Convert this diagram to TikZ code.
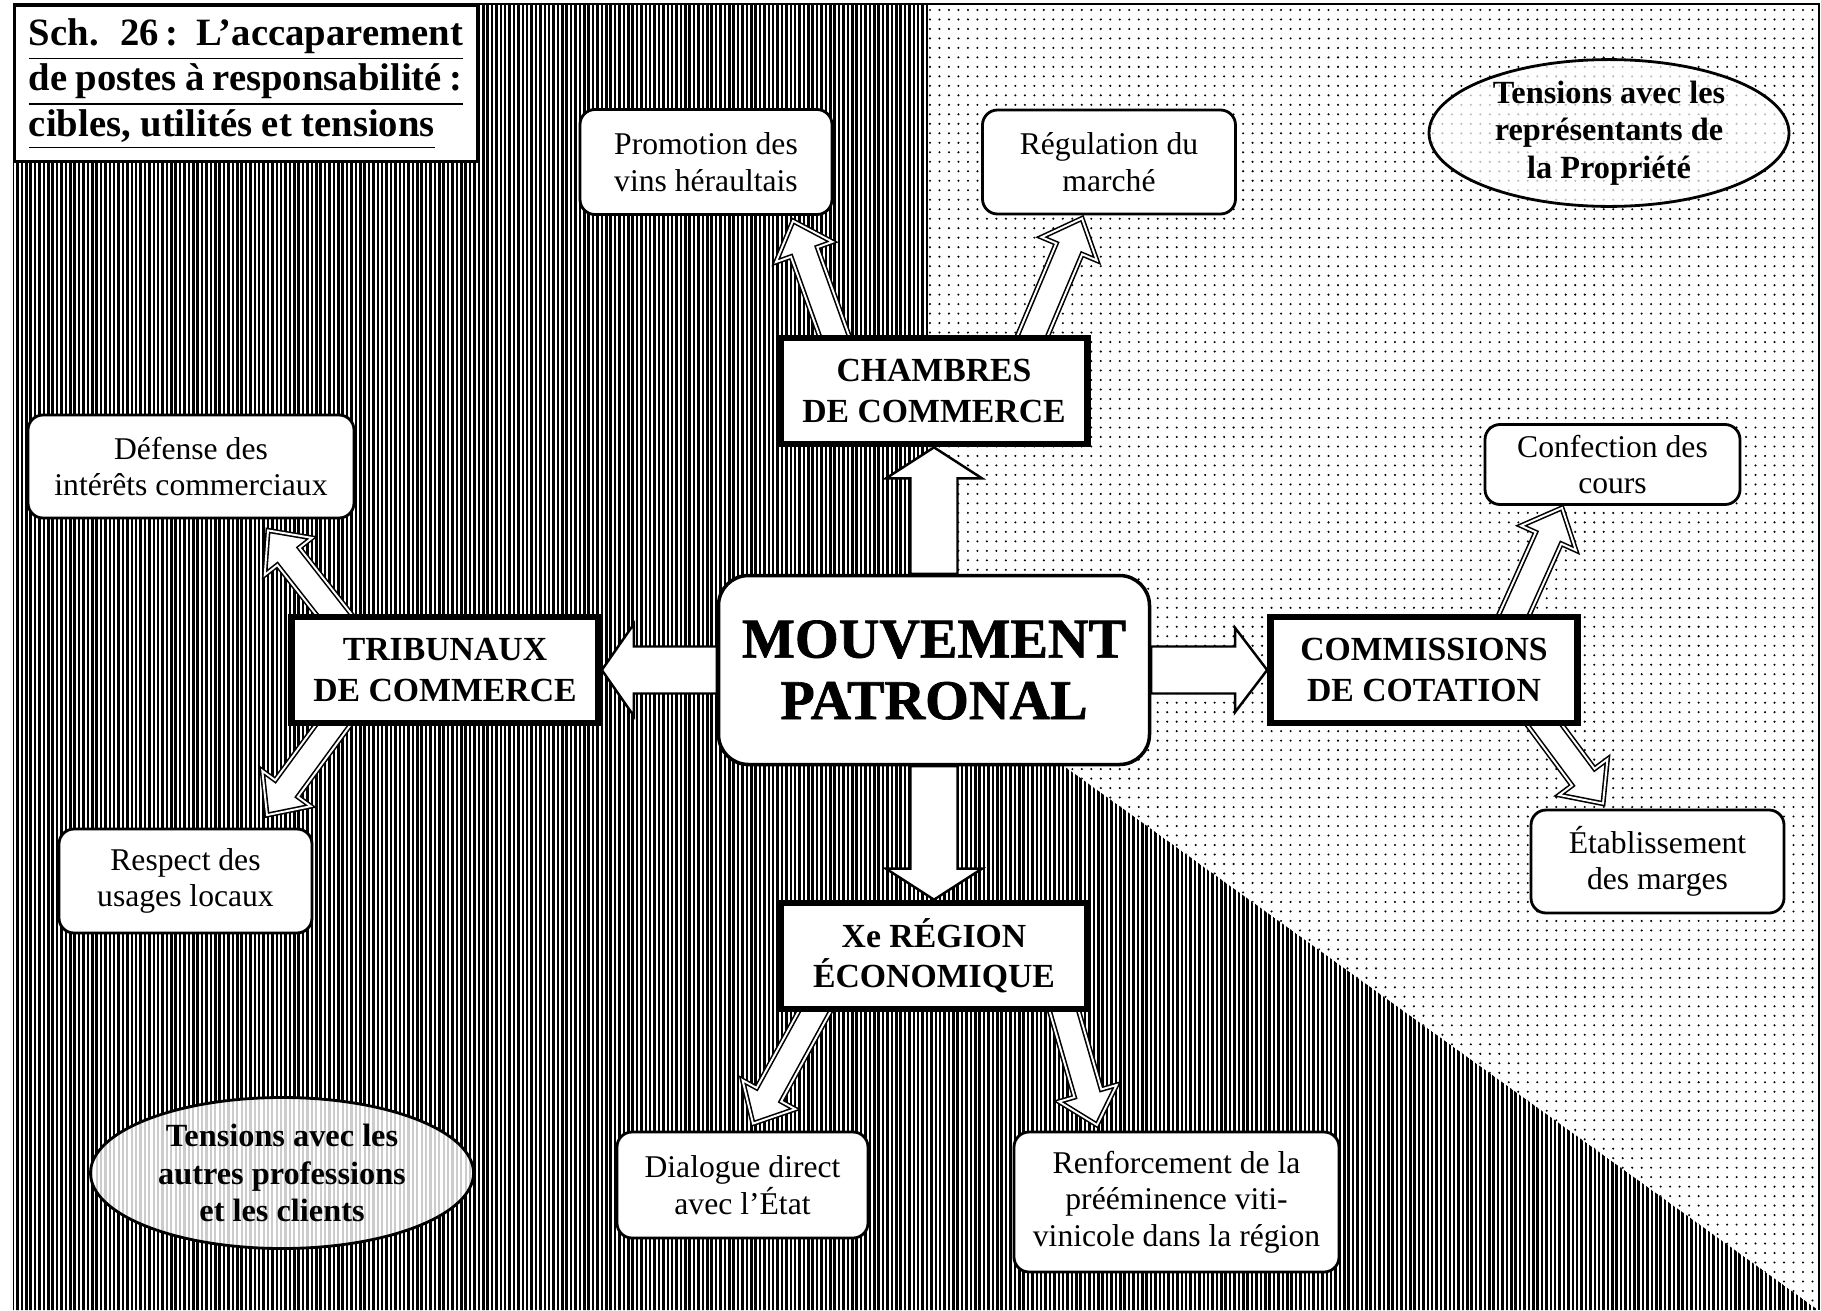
\documentclass[tikz,border=0pt]{standalone}
\usepackage{fontspec}
\setmainfont{Liberation Serif}
\newfontfamily\heavyfont{Liberation Serif}[FakeBold=1.2]
\usetikzlibrary{calc,shapes.geometric,patterns.meta,backgrounds}
% block arrow: [style]{tail}{tip}{half shaft}{half head}{head length}
\newcommand{\fatarrow}[6][]{%
  \coordinate (fa-base) at ($(#3)!#6!(#2)$);
  \draw[#1] ($(#2)!#4!90:(#3)$) -- ($(fa-base)!#4!90:(#3)$) -- ($(fa-base)!#5!90:(#3)$) -- (#3)
    -- ($(fa-base)!#5!-90:(#3)$) -- ($(fa-base)!#4!-90:(#3)$) -- ($(#2)!#4!-90:(#3)$) -- cycle;
}
\tikzset{
  softbox/.style={draw=black, fill=white, rounded corners=1.5mm, line width=0.8pt, align=center, inner sep=0pt, font=\fontsize{9}{10.4}\selectfont},
  postbox/.style={draw=black, fill=white, line width=1.9pt, align=center, inner sep=0pt, minimum width=3.07cm, minimum height=1.06cm, font=\bfseries\fontsize{9.6}{11.5}\selectfont},
  corebox/.style={draw=black, fill=white, rounded corners=3mm, line width=1pt, align=center, minimum width=4.31cm, minimum height=1.89cm, font=\heavyfont\bfseries\fontsize{16}{17.5}\selectfont},
  friction/.style={ellipse, draw=black, line width=0.8pt, align=center, inner sep=0pt, preaction={fill=white}, font=\bfseries\fontsize{9.2}{10.6}\selectfont},
  titlebox/.style={draw=black, fill=white, line width=0.8pt, anchor=north west, inner xsep=0.145cm, inner ysep=0.13cm},
  bigarrow/.style={draw=black, fill=white, line width=0.7pt, line join=miter},
  thinarrow/.style={draw=black, fill=white, line width=0.45pt, double=white, double distance=0.55pt, line join=miter},
  stripefield/.style={pattern={Lines[angle=90,distance=1.25pt,line width=0.72pt]}, pattern color=black},
  dotfield/.style={pattern={Dots[distance=2.7pt,radius=0.33pt]}, pattern color=black},
  outerframe/.style={draw=black, line width=0.6pt}
}

\begin{document}
\begin{tikzpicture}
  \useasboundingbox (0,0) rectangle (18.21,-13.10);
  % title
  \node[titlebox] (title) at (0.13,-0.04) {\parbox[c][1.30cm][t]{4.34cm}{\bfseries\fontsize{11}{11.6}\selectfont
    \underline{\makebox[4.34cm][s]{Sch. 26\,: L’accaparement}}\\
    \underline{\makebox[4.34cm][s]{de postes à responsabilité :}}\\
    \underline{cibles, utilités et tensions}}};
  % top
  \node[softbox, minimum width=2.52cm, minimum height=1.05cm] (promo) at (7.06,-1.62) {Promotion des\\vins héraultais};
  \node[softbox, minimum width=2.53cm, minimum height=1.04cm] (regul) at (11.09,-1.62) {Régulation du\\marché};
  \node[postbox] (chambres) at (9.34,-3.91) {CHAMBRES\\DE COMMERCE};
  \node[friction, pattern={Dots[distance=2.7pt,radius=0.33pt]}, pattern color=gray!55, minimum width=3.6cm, minimum height=1.39cm] (proprio) at (16.09,-1.33) {Tensions avec les\\représentants de\\la Propriété};
  % middle
  \node[softbox, minimum width=3.26cm, minimum height=1.03cm] (defense) at (1.91,-4.665) {Défense des\\intérêts commerciaux};
  \node[postbox] (tribunaux) at (4.45,-6.70) {TRIBUNAUX\\DE COMMERCE};
  \node[corebox] (mouvement) at (9.34,-6.70) {MOUVEMENT\\PATRONAL};
  \node[postbox] (commissions) at (14.24,-6.70) {COMMISSIONS\\DE COTATION};
  \node[softbox, minimum width=2.55cm, minimum height=0.80cm] (confection) at (16.125,-4.645) {Confection des\\cours};
  \node[softbox, minimum width=2.53cm, minimum height=1.03cm] (marges) at (16.575,-8.615) {Établissement\\des marges};
  \node[softbox, minimum width=2.53cm, minimum height=1.04cm] (usages) at (1.855,-8.81) {Respect des\\usages locaux};
  % bottom
  \node[postbox] (region) at (9.34,-9.56) {Xe RÉGION\\ÉCONOMIQUE};
  \node[softbox, minimum width=2.51cm, minimum height=1.06cm] (dialogue) at (7.425,-11.85) {Dialogue direct\\avec l’État};
  \node[softbox, minimum width=3.25cm, minimum height=1.40cm] (vinicole) at (11.765,-12.02) {Renforcement de la\\prééminence viti-\\vinicole dans la région};
  \node[friction, pattern={Lines[angle=90,distance=1.25pt,line width=0.62pt]}, pattern color=gray!40, minimum width=3.83cm, minimum height=1.51cm] (clients) at (2.82,-11.73) {Tensions avec les\\autres professions\\et les clients};

  % background textures
  \begin{scope}[on background layer]
    \path[stripefield] (0.13,-0.04) -- (9.28,-0.04) -- (9.28,-6.68) -- (18.18,-13.10) -- (0.13,-13.10) -- cycle;
    \path[dotfield] (9.28,-0.04) -- (18.19,-0.04) -- (18.19,-13.10) -- (18.18,-13.10) -- (9.28,-6.68) -- cycle;
  \end{scope}

  % arrow ends
  \coordinate (chambres-l) at ($(chambres.north)+(-0.93,-0.20)$);
  \coordinate (chambres-r) at ($(chambres.north)+(0.91,-0.19)$);
  \coordinate (promo-in) at ($(promo.south)+(0.87,-0.05)$);
  \coordinate (regul-in) at ($(regul.south)+(-0.27,-0.03)$);
  \coordinate (tribunaux-u) at ($(tribunaux.north)+(-1.00,-0.15)$);
  \coordinate (tribunaux-d) at ($(tribunaux.south)+(-1.02,0.15)$);
  \coordinate (defense-in) at ($(defense.south)+(0.77,-0.11)$);
  \coordinate (usages-in) at ($(usages.north)+(0.815,0.125)$);
  \coordinate (commissions-u) at ($(commissions.north)+(0.82,-0.19)$);
  \coordinate (commissions-d) at ($(commissions.south)+(1.09,0.17)$);
  \coordinate (confection-in) at ($(confection.south)+(-0.505,-0.02)$);
  \coordinate (marges-in) at ($(marges.north)+(-0.545,0.05)$);
  \coordinate (region-l) at ($(region.south)+(-1.09,0.20)$);
  \coordinate (region-r) at ($(region.south)+(1.25,0.19)$);
  \coordinate (dialogue-in) at ($(dialogue.north)+(0.105,0.07)$);
  \coordinate (vinicole-in) at ($(vinicole.north)+(-0.795,0.056)$);

  \begin{scope}[on background layer]
    \fatarrow[bigarrow]{mouvement.north}{chambres.south}{0.235cm}{0.48cm}{0.31cm}
    \fatarrow[bigarrow]{mouvement.south}{region.north}{0.235cm}{0.48cm}{0.31cm}
    \fatarrow[bigarrow]{mouvement.west}{tribunaux.east}{0.235cm}{0.46cm}{0.32cm}
    \fatarrow[bigarrow]{mouvement.east}{commissions.west}{0.235cm}{0.42cm}{0.32cm}
    \fatarrow[thinarrow]{chambres-l}{promo-in}{0.14cm}{0.30cm}{0.33cm}
    \fatarrow[thinarrow]{chambres-r}{regul-in}{0.14cm}{0.30cm}{0.33cm}
    \fatarrow[thinarrow]{tribunaux-u}{defense-in}{0.14cm}{0.30cm}{0.33cm}
    \fatarrow[thinarrow]{tribunaux-d}{usages-in}{0.14cm}{0.30cm}{0.33cm}
    \fatarrow[thinarrow]{commissions-u}{confection-in}{0.14cm}{0.30cm}{0.33cm}
    \fatarrow[thinarrow]{commissions-d}{marges-in}{0.14cm}{0.30cm}{0.33cm}
    \fatarrow[thinarrow]{region-l}{dialogue-in}{0.14cm}{0.30cm}{0.33cm}
    \fatarrow[thinarrow]{region-r}{vinicole-in}{0.14cm}{0.30cm}{0.33cm}
  \end{scope}

  \draw[outerframe] (0.13,-0.04) -- (18.19,-0.04) -- (18.19,-13.10);
\end{tikzpicture}
\end{document}
